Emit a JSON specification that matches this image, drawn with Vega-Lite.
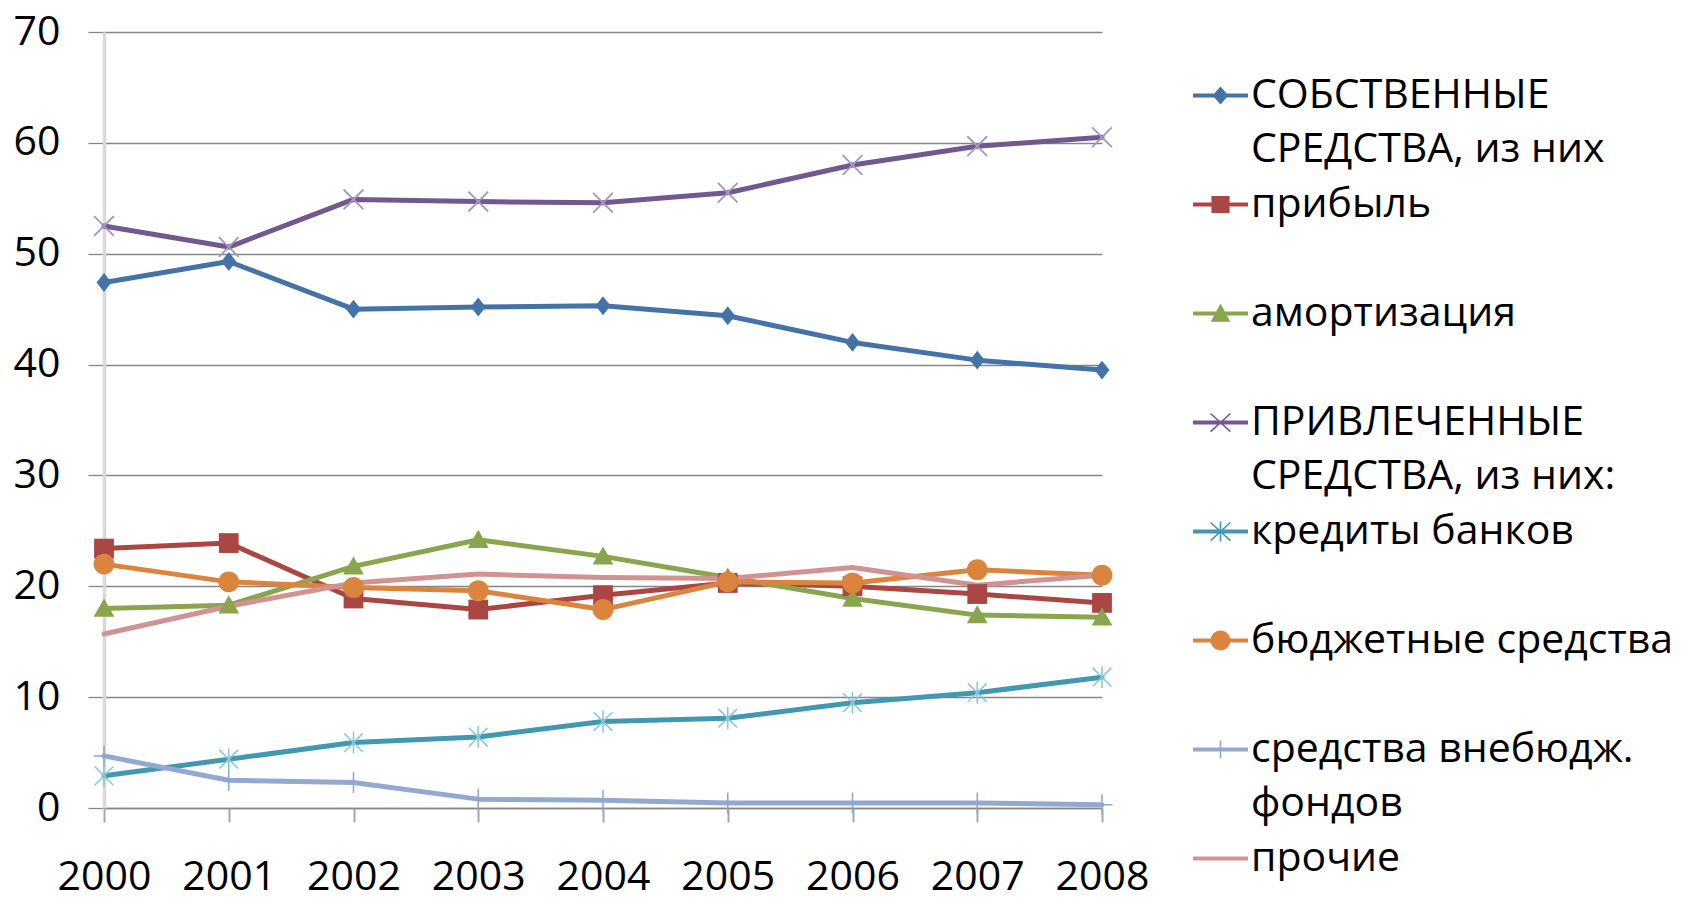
{
  "$schema": "https://vega.github.io/schema/vega-lite/v6.json",
  "autosize": {"type": "none"},
  "padding": {"left": 104, "top": 32, "right": 587, "bottom": 93},
  "width": 998,
  "height": 776,
  "background": "#ffffff",
  "config": {
    "view": {"stroke": null},
    "font": "Open Sans"
  },
  "data": {
    "values": [
      {"year": "2000", "series": "СОБСТВЕННЫЕ СРЕДСТВА, из них", "value": 47.4},
      {"year": "2001", "series": "СОБСТВЕННЫЕ СРЕДСТВА, из них", "value": 49.3},
      {"year": "2002", "series": "СОБСТВЕННЫЕ СРЕДСТВА, из них", "value": 45.0},
      {"year": "2003", "series": "СОБСТВЕННЫЕ СРЕДСТВА, из них", "value": 45.2},
      {"year": "2004", "series": "СОБСТВЕННЫЕ СРЕДСТВА, из них", "value": 45.3},
      {"year": "2005", "series": "СОБСТВЕННЫЕ СРЕДСТВА, из них", "value": 44.4},
      {"year": "2006", "series": "СОБСТВЕННЫЕ СРЕДСТВА, из них", "value": 42.0},
      {"year": "2007", "series": "СОБСТВЕННЫЕ СРЕДСТВА, из них", "value": 40.4},
      {"year": "2008", "series": "СОБСТВЕННЫЕ СРЕДСТВА, из них", "value": 39.5},
      {"year": "2000", "series": "прибыль", "value": 23.4},
      {"year": "2001", "series": "прибыль", "value": 23.9},
      {"year": "2002", "series": "прибыль", "value": 18.9},
      {"year": "2003", "series": "прибыль", "value": 17.9},
      {"year": "2004", "series": "прибыль", "value": 19.2},
      {"year": "2005", "series": "прибыль", "value": 20.3},
      {"year": "2006", "series": "прибыль", "value": 20.0},
      {"year": "2007", "series": "прибыль", "value": 19.3},
      {"year": "2008", "series": "прибыль", "value": 18.5},
      {"year": "2000", "series": "амортизация", "value": 18.0},
      {"year": "2001", "series": "амортизация", "value": 18.3},
      {"year": "2002", "series": "амортизация", "value": 21.8},
      {"year": "2003", "series": "амортизация", "value": 24.2},
      {"year": "2004", "series": "амортизация", "value": 22.7},
      {"year": "2005", "series": "амортизация", "value": 20.8},
      {"year": "2006", "series": "амортизация", "value": 18.9},
      {"year": "2007", "series": "амортизация", "value": 17.4},
      {"year": "2008", "series": "амортизация", "value": 17.2},
      {"year": "2000", "series": "ПРИВЛЕЧЕННЫЕ СРЕДСТВА, из них:", "value": 52.5},
      {"year": "2001", "series": "ПРИВЛЕЧЕННЫЕ СРЕДСТВА, из них:", "value": 50.6},
      {"year": "2002", "series": "ПРИВЛЕЧЕННЫЕ СРЕДСТВА, из них:", "value": 54.9},
      {"year": "2003", "series": "ПРИВЛЕЧЕННЫЕ СРЕДСТВА, из них:", "value": 54.7},
      {"year": "2004", "series": "ПРИВЛЕЧЕННЫЕ СРЕДСТВА, из них:", "value": 54.6},
      {"year": "2005", "series": "ПРИВЛЕЧЕННЫЕ СРЕДСТВА, из них:", "value": 55.5},
      {"year": "2006", "series": "ПРИВЛЕЧЕННЫЕ СРЕДСТВА, из них:", "value": 58.0},
      {"year": "2007", "series": "ПРИВЛЕЧЕННЫЕ СРЕДСТВА, из них:", "value": 59.7},
      {"year": "2008", "series": "ПРИВЛЕЧЕННЫЕ СРЕДСТВА, из них:", "value": 60.5},
      {"year": "2000", "series": "кредиты банков", "value": 2.9},
      {"year": "2001", "series": "кредиты банков", "value": 4.4},
      {"year": "2002", "series": "кредиты банков", "value": 5.9},
      {"year": "2003", "series": "кредиты банков", "value": 6.4},
      {"year": "2004", "series": "кредиты банков", "value": 7.8},
      {"year": "2005", "series": "кредиты банков", "value": 8.1},
      {"year": "2006", "series": "кредиты банков", "value": 9.5},
      {"year": "2007", "series": "кредиты банков", "value": 10.4},
      {"year": "2008", "series": "кредиты банков", "value": 11.8},
      {"year": "2000", "series": "бюджетные средства", "value": 22.0},
      {"year": "2001", "series": "бюджетные средства", "value": 20.4},
      {"year": "2002", "series": "бюджетные средства", "value": 19.9},
      {"year": "2003", "series": "бюджетные средства", "value": 19.6},
      {"year": "2004", "series": "бюджетные средства", "value": 17.9},
      {"year": "2005", "series": "бюджетные средства", "value": 20.4},
      {"year": "2006", "series": "бюджетные средства", "value": 20.3},
      {"year": "2007", "series": "бюджетные средства", "value": 21.5},
      {"year": "2008", "series": "бюджетные средства", "value": 21.0},
      {"year": "2000", "series": "средства внебюдж. фондов", "value": 4.7},
      {"year": "2001", "series": "средства внебюдж. фондов", "value": 2.5},
      {"year": "2002", "series": "средства внебюдж. фондов", "value": 2.3},
      {"year": "2003", "series": "средства внебюдж. фондов", "value": 0.8},
      {"year": "2004", "series": "средства внебюдж. фондов", "value": 0.7},
      {"year": "2005", "series": "средства внебюдж. фондов", "value": 0.45},
      {"year": "2006", "series": "средства внебюдж. фондов", "value": 0.45},
      {"year": "2007", "series": "средства внебюдж. фондов", "value": 0.45},
      {"year": "2008", "series": "средства внебюдж. фондов", "value": 0.3},
      {"year": "2000", "series": "прочие", "value": 15.7},
      {"year": "2001", "series": "прочие", "value": 18.2},
      {"year": "2002", "series": "прочие", "value": 20.3},
      {"year": "2003", "series": "прочие", "value": 21.1},
      {"year": "2004", "series": "прочие", "value": 20.8},
      {"year": "2005", "series": "прочие", "value": 20.7},
      {"year": "2006", "series": "прочие", "value": 21.7},
      {"year": "2007", "series": "прочие", "value": 20.1},
      {"year": "2008", "series": "прочие", "value": 21.0}
    ]
  },
  "encoding": {
    "x": {
      "field": "year",
      "type": "ordinal",
      "scale": {"type": "point", "padding": 0},
      "axis": {
        "title": null,
        "labelAngle": 0,
        "labelFont": "Open Sans",
        "labelFontSize": 41,
        "labelColor": "#000000",
        "labelPadding": 35,
        "domainColor": "#868686",
        "domainWidth": 1.3,
        "tickColor": "#A6A6A6",
        "tickWidth": 2,
        "tickSize": 14,
        "grid": false
      }
    },
    "y": {
      "field": "value",
      "type": "quantitative",
      "scale": {"domain": [0, 70], "nice": false, "zero": true},
      "axis": {
        "title": null,
        "values": [0, 10, 20, 30, 40, 50, 60, 70],
        "labelFont": "Open Sans",
        "labelFontSize": 41,
        "labelColor": "#000000",
        "labelPadding": 28,
        "domainColor": "#D9D9D9",
        "domainWidth": 3.5,
        "tickColor": "#868686",
        "tickWidth": 1.3,
        "tickSize": 16,
        "grid": true,
        "gridColor": "#868686",
        "gridWidth": 1.3
      }
    }
  },
  "layer": [
    {
      "mark": {"type": "line", "strokeWidth": 5, "strokeJoin": "round", "strokeCap": "round"},
      "encoding": {
        "color": {
          "field": "series",
          "type": "nominal",
          "scale": {
            "domain": ["СОБСТВЕННЫЕ СРЕДСТВА, из них", "прибыль", "амортизация", "ПРИВЛЕЧЕННЫЕ СРЕДСТВА, из них:", "кредиты банков", "бюджетные средства", "средства внебюдж. фондов", "прочие"],
            "range": ["#4572A7", "#AA4643", "#89A54E", "#71588F", "#4198AF", "#DB843D", "#93A9CF", "#D19392"]
          },
          "legend": {
            "orient": "none",
            "legendX": 1089,
            "legendY": 36,
            "title": null,
            "padding": 0,
            "labelFont": "Open Sans",
            "labelFontSize": 41,
            "labelColor": "#000000",
            "labelLimit": 0,
            "labelOffset": 3,
            "labelBaseline": "top",
            "rowPadding": 7,
            "symbolSize": 3025,
            "labelExpr": "[['СОБСТВЕННЫЕ', 'СРЕДСТВА, из них'], ['прибыль', ' '], ['амортизация', ' '], ['ПРИВЛЕЧЕННЫЕ', 'СРЕДСТВА, из них:'], ['кредиты банков', ' '], ['бюджетные средства', ' '], ['средства внебюдж.', 'фондов'], ['прочие', ' ']][datum.index]",
            "encoding": {
              "labels": {
                "lineHeight": {"value": 54},
                "dy": {"value": -20}
              },
              "symbols": {
                "shape": {"value": {"expr": "['M-1,-0.075H1V0.075H-1Z M0,-0.33L0.29,0L0,0.33L-0.29,0Z', 'M-1,-0.075H1V0.075H-1Z M-0.33,-0.31H0.33V0.31H-0.33Z', 'M-1,-0.075H1V0.075H-1Z M0,-0.36L0.36,0.3H-0.36Z', 'M-1,-0.075H1V0.075H-1Z M-0.34,-0.35L0.38,0.31L0.34,0.35L-0.38,-0.31Z M-0.38,0.31L0.34,-0.35L0.38,-0.31L-0.34,0.35Z', 'M-1,-0.075H1V0.075H-1Z M-0.34,-0.35L0.38,0.31L0.34,0.35L-0.38,-0.31Z M-0.38,0.31L0.34,-0.35L0.38,-0.31L-0.34,0.35Z M-0.03,-0.36H0.03V0.36H-0.03Z', 'M-1,-0.075H1V0.075H-1Z M-0.36,0A0.36,0.36 0 1,1 0.36,0A0.36,0.36 0 1,1 -0.36,0Z', 'M-1,-0.075H1V0.075H-1Z M-0.03,-0.33H0.03V0.33H-0.03Z', 'M-1,-0.075H1V0.075H-1Z'][datum.index]"}},
                "fill": {"value": {"expr": "['#4572A7', '#AA4643', '#89A54E', '#71588F', '#4198AF', '#DB843D', '#93A9CF', '#D19392'][datum.index]"}},
                "stroke": {"value": "transparent"},
                "strokeWidth": {"value": 0},
                "opacity": {"value": 1}
              }
            }
          }
        }
      }
    },
    {
      "transform": [{"filter": "datum.series === 'СОБСТВЕННЫЕ СРЕДСТВА, из них'"}],
      "mark": {"type": "point", "filled": true, "opacity": 1, "size": 484, "strokeWidth": 0, "fill": "#4572A7", "shape": "M0,-0.86L0.68,0L0,0.86L-0.68,0Z"}
    },
    {
      "transform": [{"filter": "datum.series === 'прибыль'"}],
      "mark": {"type": "point", "filled": true, "opacity": 1, "size": 484, "strokeWidth": 0, "fill": "#AA4643", "shape": "M-0.9,-0.9H0.9V0.9H-0.9Z"}
    },
    {
      "transform": [{"filter": "datum.series === 'амортизация'"}],
      "mark": {"type": "point", "filled": true, "opacity": 1, "size": 484, "strokeWidth": 0, "fill": "#89A54E", "shape": "M0,-0.9L0.95,0.75H-0.95Z"}
    },
    {
      "transform": [{"filter": "datum.series === 'ПРИВЛЕЧЕННЫЕ СРЕДСТВА, из них:'"}],
      "mark": {"type": "point", "filled": true, "opacity": 1, "size": 484, "strokeWidth": 0, "fill": "#A497C2", "shape": "M-0.84,-0.96L0.96,0.84L0.84,0.96L-0.96,-0.84Z M-0.96,0.84L0.84,-0.96L0.96,-0.84L-0.84,0.96Z"}
    },
    {
      "transform": [{"filter": "datum.series === 'кредиты банков'"}],
      "mark": {"type": "point", "filled": true, "opacity": 1, "size": 484, "strokeWidth": 0, "fill": "#86C8D9", "shape": "M-0.8,-0.9L0.9,0.8L0.8,0.9L-0.9,-0.8Z M-0.9,0.8L0.8,-0.9L0.9,-0.8L-0.8,0.9Z M-0.07,-1H0.07V1H-0.07Z"}
    },
    {
      "transform": [{"filter": "datum.series === 'бюджетные средства'"}],
      "mark": {"type": "point", "filled": true, "opacity": 1, "size": 484, "strokeWidth": 0, "fill": "#DB843D", "shape": "M-0.95,0A0.95,0.95 0 1,1 0.95,0A0.95,0.95 0 1,1 -0.95,0Z"}
    },
    {
      "transform": [{"filter": "datum.series === 'средства внебюдж. фондов'"}],
      "mark": {"type": "point", "filled": true, "opacity": 1, "size": 484, "strokeWidth": 0, "fill": "#8EA6D3", "shape": "M-0.07,-0.95H0.07V0.95H-0.07Z M-0.95,-0.07H0.95V0.07H-0.95Z"}
    }
  ]
}
